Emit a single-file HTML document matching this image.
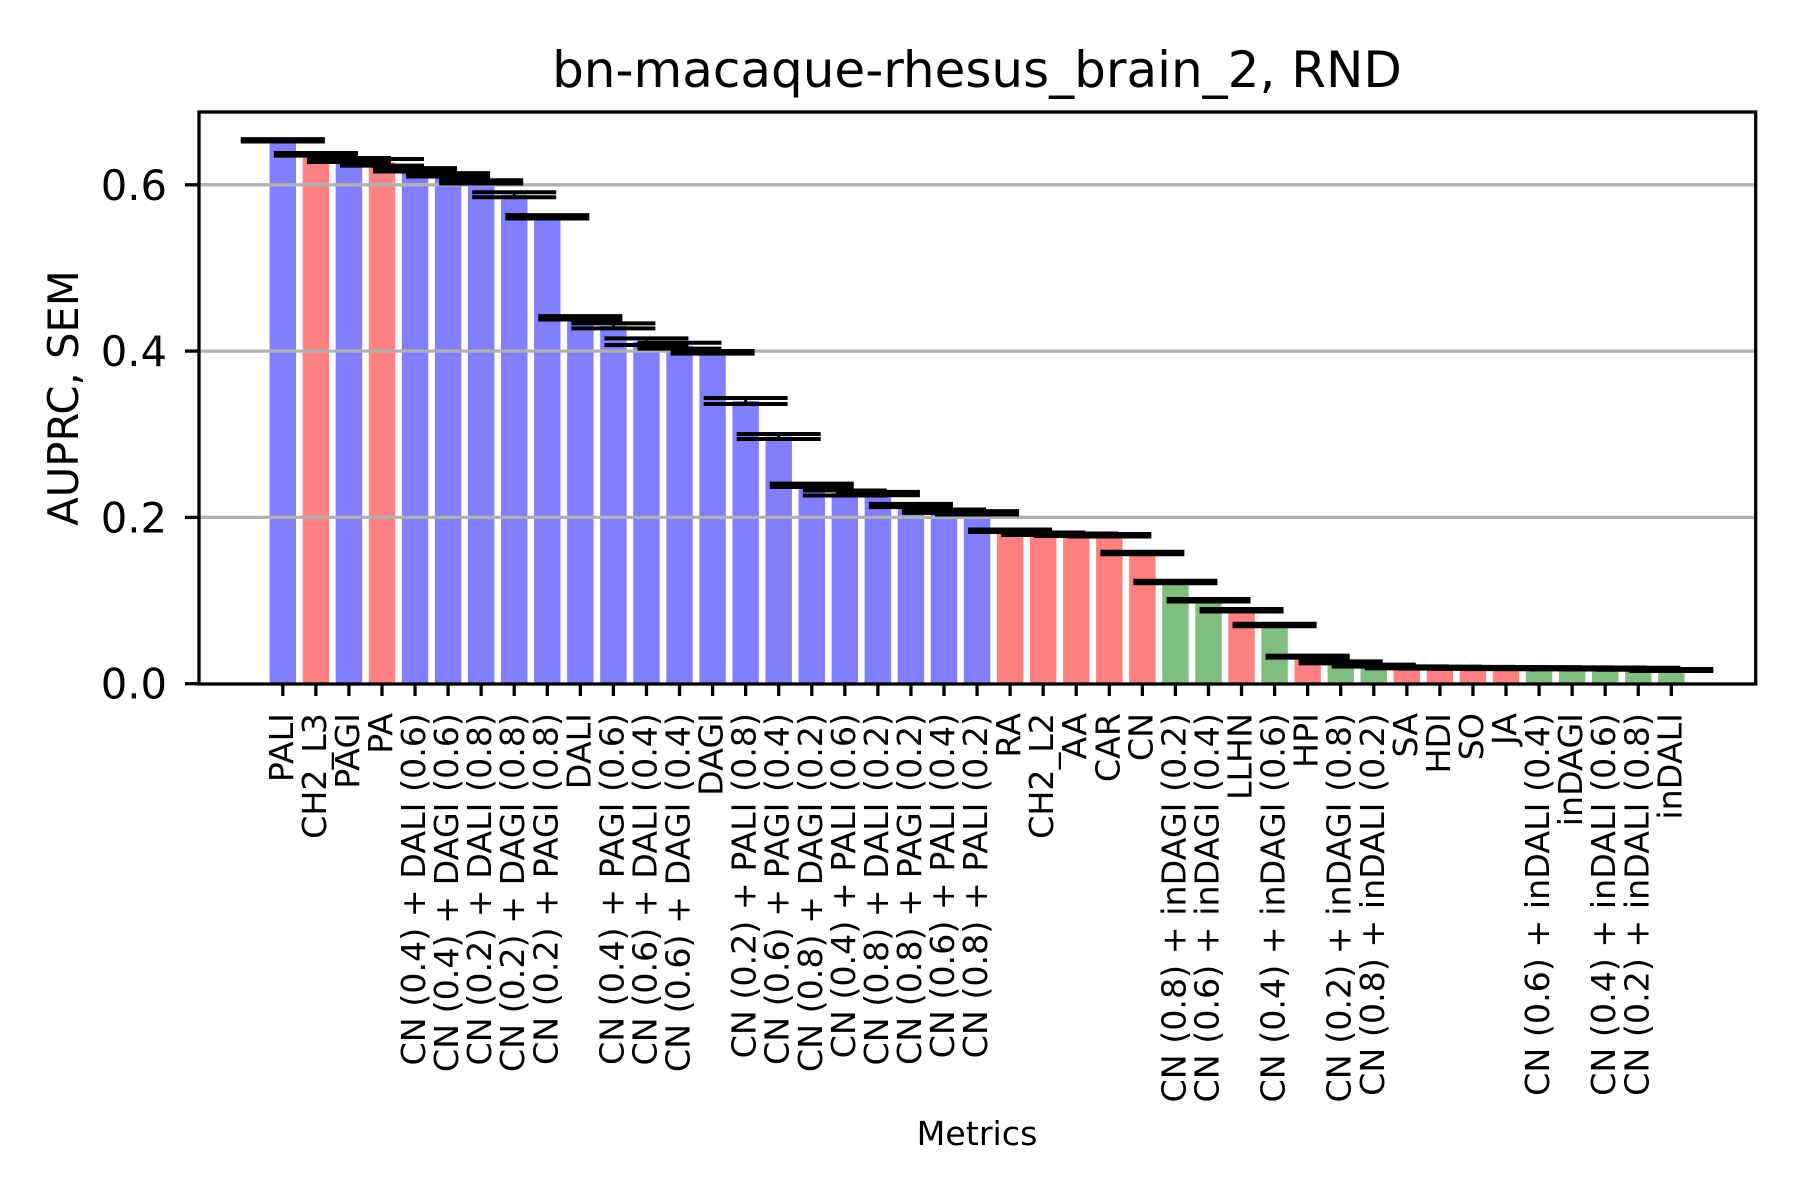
<!DOCTYPE html>
<html><head><meta charset="utf-8"><style>
html,body{margin:0;padding:0;background:#fff;}
svg{display:block;font-family:"DejaVu Sans","Liberation Sans",sans-serif;}
</style></head><body>
<svg id="chart" width="1800" height="1200" viewBox="0 0 1800 1200" xmlns="http://www.w3.org/2000/svg">
<rect width="1800" height="1200" fill="#fff"/>
<text x="977" y="87" font-size="50" text-anchor="middle">bn-macaque-rhesus_brain_2, RND</text>
<text x="78" y="398" font-size="41.7" text-anchor="middle" transform="rotate(-90 78 398)">AUPRC, SEM</text>
<text x="977" y="1145" font-size="33.3" text-anchor="middle">Metrics</text>
<g id="bars"></g><g id="grid"></g><g id="errs"></g><g id="axes"></g>
</svg>
<script>
const categories = ["PALI","CH2_L3","PAGI","PA","CN (0.4) + DALI (0.6)","CN (0.4) + DAGI (0.6)","CN (0.2) + DALI (0.8)","CN (0.2) + DAGI (0.8)","CN (0.2) + PAGI (0.8)","DALI","CN (0.4) + PAGI (0.6)","CN (0.6) + DALI (0.4)","CN (0.6) + DAGI (0.4)","DAGI","CN (0.2) + PALI (0.8)","CN (0.6) + PAGI (0.4)","CN (0.8) + DAGI (0.2)","CN (0.4) + PALI (0.6)","CN (0.8) + DALI (0.2)","CN (0.8) + PAGI (0.2)","CN (0.6) + PALI (0.4)","CN (0.8) + PALI (0.2)","RA","CH2_L2","AA","CAR","CN","CN (0.8) + inDAGI (0.2)","CN (0.6) + inDAGI (0.4)","LLHN","CN (0.4) + inDAGI (0.6)","HPI","CN (0.2) + inDAGI (0.8)","CN (0.8) + inDALI (0.2)","SA","HDI","SO","JA","CN (0.6) + inDALI (0.4)","inDAGI","CN (0.4) + inDALI (0.6)","CN (0.2) + inDALI (0.8)","inDALI"];
const values = [0.6535,0.6367,0.6298,0.627,0.618,0.612,0.6035,0.588,0.5615,0.440,0.4304,0.4113,0.4065,0.3985,0.340,0.2973,0.2386,0.2293,0.2287,0.2143,0.2075,0.2055,0.184,0.1804,0.1791,0.1785,0.1572,0.1223,0.1003,0.0883,0.0706,0.0325,0.0257,0.0217,0.0197,0.0194,0.019,0.0188,0.0187,0.0185,0.0183,0.018,0.0165];
const sems = [0.0015,0.0016,0.0024,0.004,0.002,0.002,0.002,0.003,0.002,0.002,0.003,0.004,0.0035,0.0016,0.0036,0.003,0.002,0.003,0.002,0.002,0.002,0.002,0.0015,0.0015,0.0015,0.0015,0.0015,0.0015,0.0015,0.0015,0.0015,0.0012,0.0012,0.0012,0.0012,0.0012,0.0012,0.0012,0.0012,0.0012,0.0012,0.0012,0.0012];
const groups = ["b","r","b","r","b","b","b","b","b","b","b","b","b","b","b","b","b","b","b","b","b","b","r","r","r","r","r","g","g","r","g","r","g","g","r","r","r","r","g","g","g","g","g"];
const yTicks = [0.0,0.2,0.4,0.6];
const yTickLabels = ["0.0","0.2","0.4","0.6"];

const NS="http://www.w3.org/2000/svg";
const colors={b:"#8080ff",r:"#ff8080",g:"#80bf80"};
const L=199,R=1755.7,T=112,B=684;
const x0=282.8,step=33.06;
function xs(i){return x0+i*step;}
function ys(v){return 683.7-v*831.5;}
function mk(tag,attrs,parent){const e=document.createElementNS(NS,tag);for(const k in attrs)e.setAttribute(k,attrs[k]);parent.appendChild(e);return e;}
const gb=document.getElementById('bars'),gg=document.getElementById('grid'),ge=document.getElementById('errs'),ga=document.getElementById('axes');
const bw=step*0.8;
categories.forEach((c,i)=>{
  const cx=xs(i),v=values[i];
  const r=mk('rect',{x:cx-bw/2,y:ys(v),width:bw,height:ys(0)-ys(v),fill:colors[groups[i]]},gb);
  
  
  const s=sems[i];
  const eg=mk('g',{},ge);
  
  
  mk('line',{x1:cx,x2:cx,y1:ys(v+s),y2:ys(v-s),stroke:'#000','stroke-width':3},eg);
  mk('line',{x1:cx-42,x2:cx+42,y1:ys(v+s),y2:ys(v+s),stroke:'#000','stroke-width':4},eg);
  mk('line',{x1:cx-42,x2:cx+42,y1:ys(v-s),y2:ys(v-s),stroke:'#000','stroke-width':4},eg);
  const tk=mk('line',{x1:cx,x2:cx,y1:B,y2:B+12,stroke:'#000','stroke-width':3.3},ga);
  
  
  const t=mk('text',{x:cx+10,y:713,'font-size':33.3,'text-anchor':'end',transform:'rotate(-90 '+(cx+10)+' 713)'},ga);
  
  
  t.textContent=c;
});
yTicks.forEach((v,i)=>{
  const y=ys(v);
  if(v>0){const g=mk('line',{x1:L,x2:R,y1:y,y2:y,stroke:'#b0b0b0','stroke-width':3.3},gg);
    
    }
  const tk=mk('line',{x1:L-14,x2:L,y1:y,y2:y,stroke:'#000','stroke-width':3.3},ga);
  
  
  const t=mk('text',{x:167,y:y+15,'font-size':41.7,'text-anchor':'end'},ga);
  
  
  t.textContent=yTickLabels[i];
});
const fr=mk('rect',{x:L,y:T,width:R-L,height:B-T,fill:'none',stroke:'#000','stroke-width':3.3},ga);


</script>
</body></html>
